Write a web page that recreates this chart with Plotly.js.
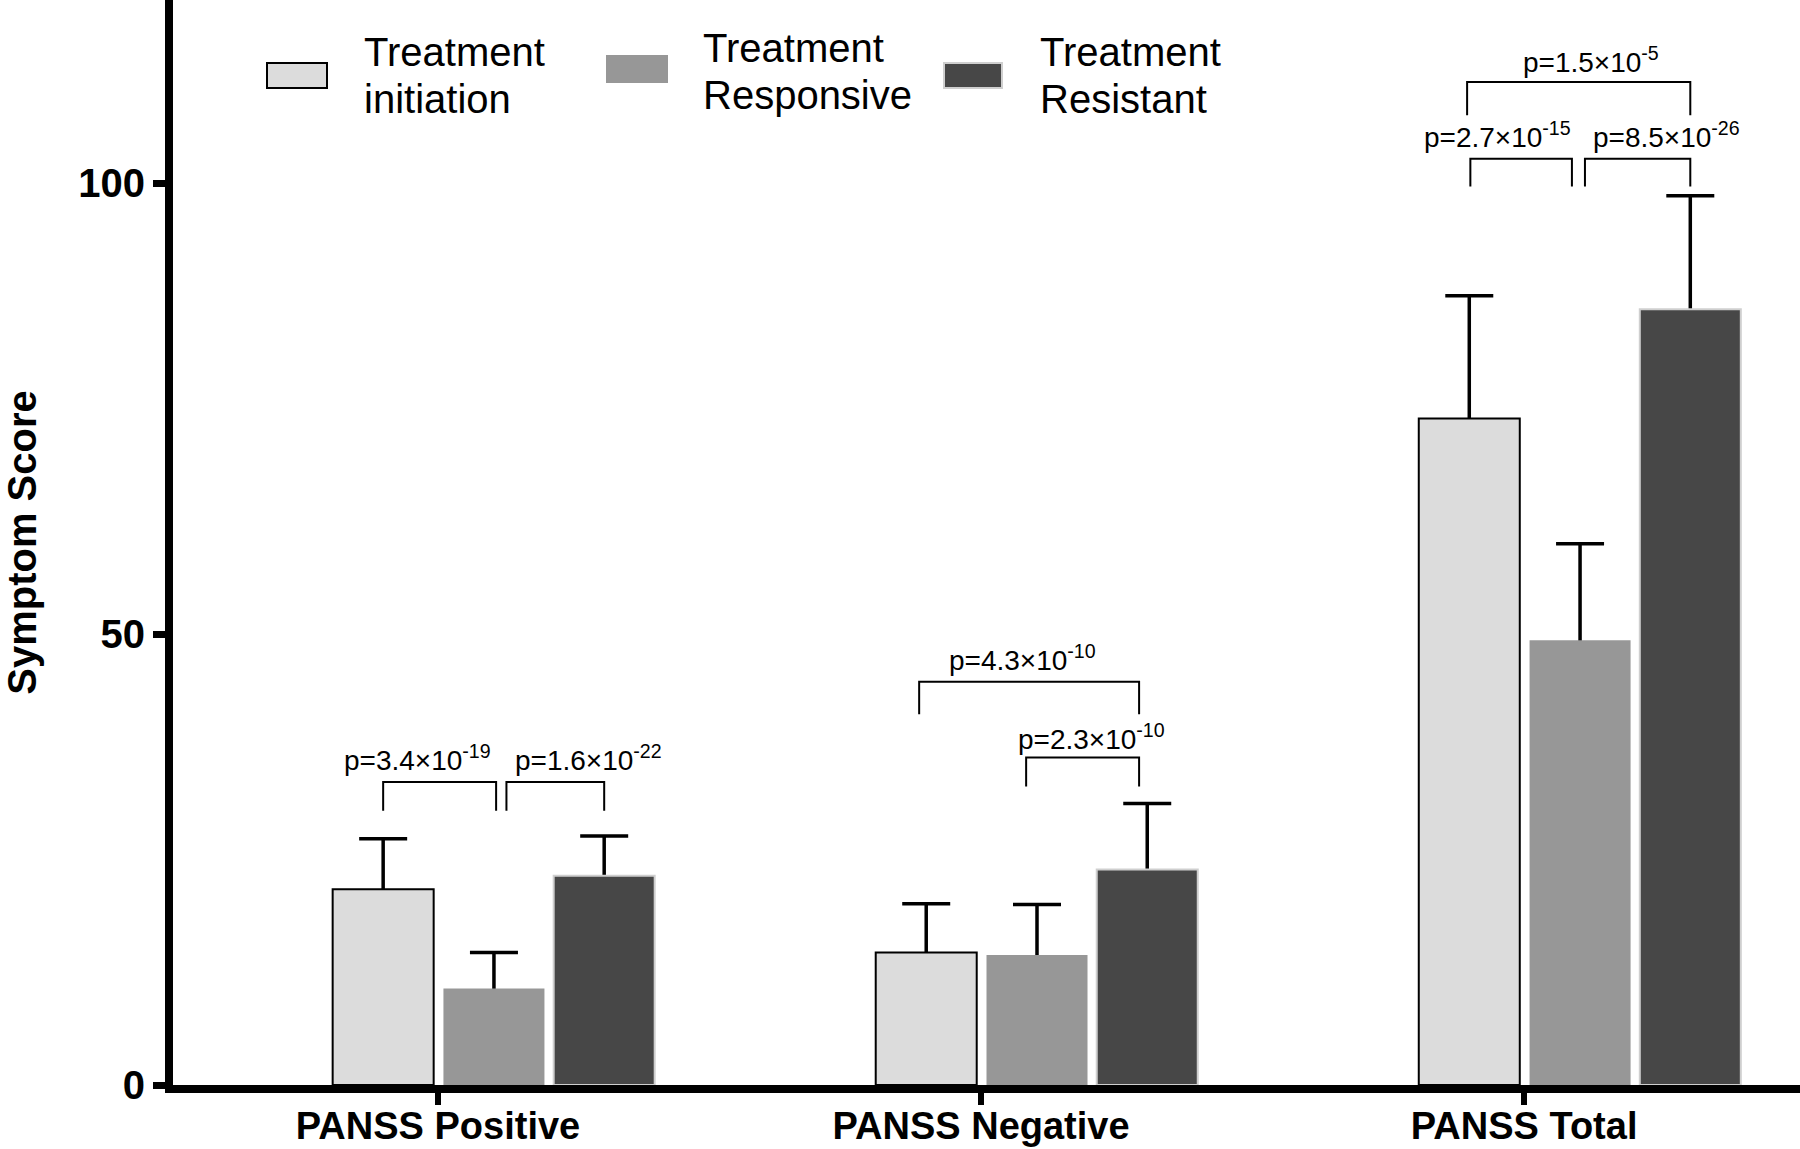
<!DOCTYPE html>
<html>
<head>
<meta charset="utf-8">
<script src="https://cdn.plot.ly/plotly-3.0.1.min.js"></script>
<style>
html,body{margin:0;padding:0;background:#fff;}
#chart{width:1800px;height:1149px;}
</style>
</head>
<body>
<div id="chart"></div>
<script>
// ---- data ----
const categories = ['PANSS Positive', 'PANSS Negative', 'PANSS Total'];
const seriesNames = ['Treatment initiation', 'Treatment Responsive', 'Treatment Resistant'];
const initiationMean = [21.7, 14.7, 73.9];
const initiationSD   = [5.6, 5.4, 13.6];
const responsiveMean = [10.7, 14.4, 49.3];
const responsiveSD   = [4.0, 5.6, 10.7];
const resistantMean  = [23.2, 23.9, 86.0];
const resistantSD    = [4.4, 7.3, 12.6];
const yTickVals = [0, 50, 100];

// pairwise comparisons
const compGroup    = [0, 0, 1, 1, 2, 2, 2];
const compFrom     = [0, 1, 0, 1, 0, 0, 1];
const compTo       = [1, 2, 2, 2, 2, 1, 2];
const pMantissa    = ['3.4', '1.6', '4.3', '2.3', '1.5', '2.7', '8.5'];
const pExponent    = ['-19', '-22', '-10', '-10', '-5', '-15', '-26'];

// ---- layout helpers (positions/styles) ----
const FONT = 'Liberation Sans, Arial, sans-serif';
const shift = [-0.101, 0.103, 0.306];
const barW = 0.186;
const fills = ['#dcdcdc', '#979797', '#474747'];
const borders = [{color: '#000', width: 2}, {color: '#979797', width: 0}, {color: '#cfcfcf', width: 2}];
const means = [initiationMean, responsiveMean, resistantMean];
const sds = [initiationSD, responsiveSD, resistantSD];

// error bars first (transparent bars), so the real bars hide their lower half
const errTraces = means.map((m, k) => ({
  type: 'bar',
  name: seriesNames[k] + ' SD',
  x: categories.map((c, i) => i + shift[k]),
  y: m,
  width: barW,
  marker: {color: 'rgba(0,0,0,0)', line: {width: 0}},
  error_y: {type: 'data', array: sds[k], color: '#000', thickness: 3.5, width: 24},
  showlegend: false,
  hoverinfo: 'skip'
}));
const barTraces = means.map((m, k) => ({
  type: 'bar',
  name: seriesNames[k],
  x: categories.map((c, i) => i + shift[k]),
  y: m,
  width: barW,
  marker: {color: fills[k], line: borders[k]},
  showlegend: false,
  hoverinfo: 'x+y'
}));

// bracket geometry: [top, legBottom, legNudgeL, legNudgeR, textX, textY]
const bracketGeom = [
  [33.6, 30.4, 0.0, 0.004, -0.038, 36.3],
  [33.6, 30.4, 0.023, 0.0, 0.278, 36.3],
  [44.7, 41.1, -0.013, -0.015, 1.0755, 47.3],
  [36.3, 33.1, -0.020, -0.015, 1.2026, 38.6],
  [111.2, 107.5, -0.004, 0.0, 2.1234, 113.6],
  [102.7, 99.6, 0.002, -0.015, 1.951, 105.3],
  [102.7, 99.6, 0.009, 0.0, 2.2624, 105.3]
];

const shapes = [];
const annotations = [];
compGroup.forEach((g, j) => {
  const [top, bot, nl, nr, tx, ty] = bracketGeom[j];
  const xl = g + shift[compFrom[j]] + nl;
  const xr = g + shift[compTo[j]] + nr;
  shapes.push({type: 'path', xref: 'x', yref: 'y',
    path: `M${xl},${bot} L${xl},${top} L${xr},${top} L${xr},${bot}`,
    line: {color: '#000', width: 2}});
  annotations.push({xref: 'x', yref: 'y', x: tx, y: ty, xanchor: 'center', yanchor: 'middle',
    text: 'p=' + pMantissa[j] + '×10<sup>' + pExponent[j] + '</sup>', showarrow: false,
    font: {family: FONT, size: 28, color: '#000'}});
});

// manual legend (paper coords; plot area 173..1800 x 0..1085 px)
const PL = 173, PW = 1627, PH = 1085;
const px = v => (v - PL) / PW;
const py = v => (PH - v) / PH;
const legBoxes = [[267, 327, 63, 88], [606, 668, 55, 83], [944, 1002, 63, 88]];
const legText = [[362, 52, 99], [701, 48, 95], [1038, 52, 99]];
const legLineStyle = [{color: '#000', width: 2}, {color: '#979797', width: 0}, {color: '#cfcfcf', width: 2}];
seriesNames.forEach((n, k) => {
  const b = legBoxes[k];
  shapes.push({type: 'rect', xref: 'paper', yref: 'paper', x0: px(b[0]), x1: px(b[1]), y0: py(b[3]), y1: py(b[2]),
    fillcolor: fills[k], line: legLineStyle[k]});
  const words = n.split(' ');
  const t = legText[k];
  annotations.push({xref: 'paper', yref: 'paper', x: px(t[0]), y: py(t[1]), xanchor: 'left', yanchor: 'middle',
    text: words[0], showarrow: false, font: {family: FONT, size: 40, color: '#000'}});
  annotations.push({xref: 'paper', yref: 'paper', x: px(t[0]), y: py(t[2]), xanchor: 'left', yanchor: 'middle',
    text: words[1], showarrow: false, font: {family: FONT, size: 40, color: '#000'}});
});

const layout = {
  width: 1800, height: 1149,
  margin: {l: PL, r: 0, t: 0, b: 1149 - PH, pad: 0},
  paper_bgcolor: '#fff', plot_bgcolor: '#fff',
  barmode: 'overlay',
  showlegend: false,
  xaxis: {
    range: [-0.488, 2.508], tickvals: categories.map((c, i) => i), ticktext: categories,
    showline: true, linecolor: '#000', linewidth: 8, ticks: 'outside', ticklen: 12, tickwidth: 6, tickcolor: '#000',
    showgrid: false, zeroline: false, ticklabelstandoff: -12,
    tickfont: {family: FONT, size: 38, color: '#000', weight: 'bold'}
  },
  yaxis: {
    range: [0, PH / 9.02], tickvals: yTickVals, ticktext: yTickVals.map(String),
    showline: true, linecolor: '#000', linewidth: 8, ticks: 'outside', ticklen: 12, tickwidth: 7, tickcolor: '#000',
    showgrid: false, zeroline: false,
    tickfont: {family: FONT, size: 40, color: '#000', weight: 'bold'},
    title: {text: 'Symptom Score', standoff: 38, font: {family: FONT, size: 40, color: '#000', weight: 'bold'}}
  },
  shapes: shapes,
  annotations: annotations
};

Plotly.newPlot('chart', errTraces.concat(barTraces), layout, {displayModeBar: false, staticPlot: true});
</script>
</body>
</html>
